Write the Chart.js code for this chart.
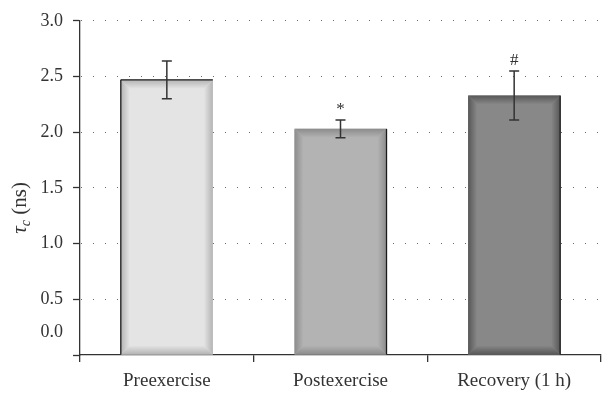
<!DOCTYPE html>
<html>
<head>
<meta charset="utf-8">
<script src="https://cdn.jsdelivr.net/npm/chart.js@4/dist/chart.umd.min.js"></script>
<style>
  body { margin: 0; background: #fff; }
  #wrap { width: 602px; height: 394px; position: relative; }
</style>
</head>
<body>
<div id="wrap"><canvas id="tauChart"></canvas></div>
<script>
const categories = ['Preexercise', 'Postexercise', 'Recovery (1 h)'];
const tauValues = [2.47, 2.03, 2.33];
const tauErrors = [0.17, 0.08, 0.22];
const significance = ['', '*', '#'];
// the original figure prints its "0.0" label a little above the real zero line
const yTickValues = [0, 0.2, 0.5, 1.0, 1.5, 2.0, 2.5, 3.0];
const yTickLabels = ['', '0.0', '0.5', '1.0', '1.5', '2.0', '2.5', '3.0'];

const serif = '"Liberation Serif", "DejaVu Serif", serif';
const ink = '#333333';
const barFill = ['#e4e4e4', '#b3b3b3', '#888888'];
const barEdge = ['#b4b4b4', '#8c8c8c', '#575757'];
const darkSide = [['top', 'left'], ['right'], ['right']];

// bevelled look of the bars
const bevelPlugin = {
  id: 'bevel',
  afterDatasetsDraw(chart) {
    const ctx = chart.ctx;
    const meta = chart.getDatasetMeta(0);
    const d = 9;
    meta.data.forEach((bar, i) => {
      const l = bar.x - bar.width / 2, r = bar.x + bar.width / 2;
      const t = bar.y, b = bar.base;
      const sides = [
        { pts: [[l, t], [r, t], [r - d, t + d], [l + d, t + d]], g: [l, t, l, t + d] },
        { pts: [[l, b], [r, b], [r - d, b - d], [l + d, b - d]], g: [l, b, l, b - d] },
        { pts: [[l, t], [l + d, t + d], [l + d, b - d], [l, b]], g: [l, t, l + d, t] },
        { pts: [[r, t], [r - d, t + d], [r - d, b - d], [r, b]], g: [r, t, r - d, t] }
      ];
      ctx.save();
      sides.forEach((s) => {
        const grad = ctx.createLinearGradient(...s.g);
        grad.addColorStop(0, barEdge[i]);
        grad.addColorStop(1, barFill[i]);
        ctx.fillStyle = grad;
        ctx.beginPath();
        s.pts.forEach((p, k) => (k ? ctx.lineTo(p[0], p[1]) : ctx.moveTo(p[0], p[1])));
        ctx.closePath();
        ctx.fill();
      });
      ctx.strokeStyle = '#1a1a1a';
      ctx.lineWidth = 1.3;
      darkSide[i].forEach((side) => {
        ctx.beginPath();
        if (side === 'top') { ctx.moveTo(l, t); ctx.lineTo(r, t); }
        if (side === 'left') { ctx.moveTo(l, t); ctx.lineTo(l, b); }
        if (side === 'right') { ctx.moveTo(r, t); ctx.lineTo(r, b); }
        ctx.stroke();
      });
      ctx.restore();
    });
  }
};

// error bars and the significance marks above them
const errorBarPlugin = {
  id: 'errorBars',
  afterDatasetsDraw(chart) {
    const ctx = chart.ctx;
    const yScale = chart.scales.y;
    const meta = chart.getDatasetMeta(0);
    ctx.save();
    ctx.strokeStyle = ink;
    ctx.lineWidth = 1.5;
    meta.data.forEach((bar, i) => {
      const x = bar.x;
      const yHi = yScale.getPixelForValue(tauValues[i] + tauErrors[i]);
      const yLo = yScale.getPixelForValue(tauValues[i] - tauErrors[i]);
      ctx.beginPath();
      ctx.moveTo(x, yHi); ctx.lineTo(x, yLo);
      ctx.moveTo(x - 5, yHi); ctx.lineTo(x + 5, yHi);
      ctx.moveTo(x - 5, yLo); ctx.lineTo(x + 5, yLo);
      ctx.stroke();
      if (significance[i]) {
        ctx.fillStyle = ink;
        ctx.font = '17px ' + serif;
        ctx.textAlign = 'center';
        ctx.textBaseline = 'alphabetic';
        ctx.fillText(significance[i], x, yHi - 6);
      }
    });
    ctx.restore();
  }
};

// rotated y title: italic tau with subscript c, then (ns)
const yTitlePlugin = {
  id: 'yTitle',
  afterDraw(chart) {
    const ctx = chart.ctx;
    const area = chart.chartArea;
    const parts = [
      { text: 'τ', font: 'italic 21px ' + serif, dy: 0 },
      { text: 'c', font: 'italic 14px ' + serif, dy: 4 },
      { text: ' (ns)', font: '21px ' + serif, dy: 0 }
    ];
    ctx.save();
    let total = 0;
    parts.forEach((p) => { ctx.font = p.font; p.w = ctx.measureText(p.text).width; total += p.w; });
    ctx.translate(26, (area.top + area.bottom) / 2 + 20);
    ctx.rotate(-Math.PI / 2);
    ctx.fillStyle = ink;
    ctx.textBaseline = 'alphabetic';
    let x = -total / 2;
    parts.forEach((p) => {
      ctx.font = p.font;
      ctx.fillText(p.text, x, p.dy);
      x += p.w;
    });
    ctx.restore();
  }
};

new Chart(document.getElementById('tauChart'), {
  type: 'bar',
  data: {
    labels: categories,
    datasets: [{
      data: tauValues,
      backgroundColor: barFill,
      borderWidth: 0,
      categoryPercentage: 1,
      barPercentage: 0.53
    }]
  },
  options: {
    responsive: true,
    maintainAspectRatio: false,
    animation: false,
    layout: { padding: { top: 19, right: 1, bottom: 0, left: 0 } },
    plugins: { legend: { display: false }, tooltip: { enabled: false } },
    scales: {
      x: {
        afterFit: (scale) => { scale.height = 39; },
        grid: { offset: true, drawOnChartArea: false, drawTicks: true, tickLength: 7, color: ink, lineWidth: 1.3 },
        border: { color: ink, width: 1.3 },
        ticks: { font: { family: serif, size: 19 }, color: ink, padding: 8 }
      },
      y: {
        min: 0,
        max: 3,
        afterFit: (scale) => { scale.width = 80; },
        afterBuildTicks: (scale) => { scale.ticks = yTickValues.map((v) => ({ value: v })); },
        grid: {
          color: (c) => (c.tick && c.tick.value > 0.4 ? '#6a6a6a' : 'rgba(0,0,0,0)'),
          tickColor: (c) => (c.tick && c.tick.value > 0 && c.tick.value < 0.4 ? 'rgba(0,0,0,0)' : ink),
          lineWidth: 1,
          tickBorderDash: [],
          tickLength: 7,
          tickWidth: 1.3
        },
        border: { color: ink, width: 1.3, dash: [1, 11], dashOffset: 11.3 },
        ticks: {
          font: { family: serif, size: 18 },
          color: ink,
          padding: 10,
          callback: (value, index) => yTickLabels[index]
        }
      }
    }
  },
  plugins: [bevelPlugin, errorBarPlugin, yTitlePlugin]
});
</script>
</body>
</html>
